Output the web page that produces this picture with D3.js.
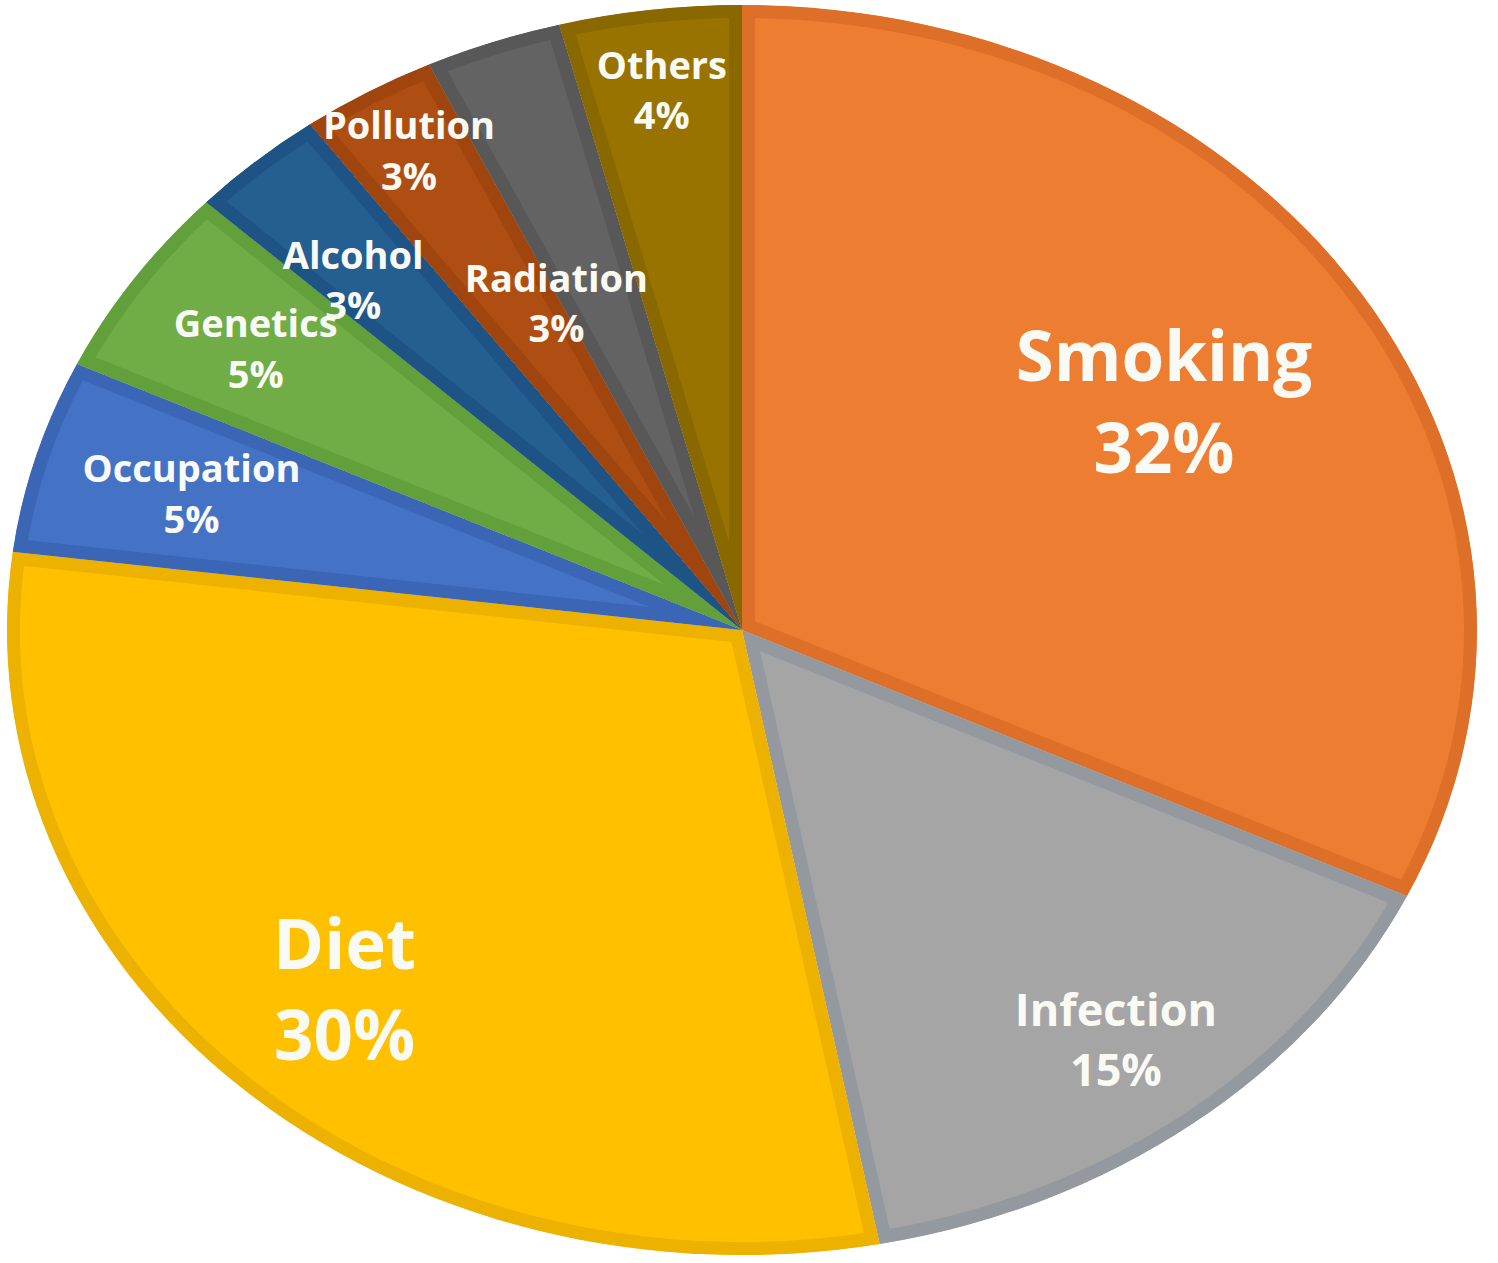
<!DOCTYPE html>
<html>
<head>
<meta charset="utf-8">
<script src="https://cdn.jsdelivr.net/npm/d3@7"></script>
<style>
  body { margin: 0; background: #fff; }
  .sliceLabel { font-family: "Open Sans", sans-serif; font-weight: 700; fill: #fafaf5; }
</style>
</head>
<body>
<div class="chart"></div>
<script>
// data
var categories = ["Smoking", "Infection", "Diet", "Occupation", "Genetics", "Alcohol", "Pollution", "Radiation", "Others"];
var percents = [32, 15, 30, 5, 5, 3, 3, 3, 4];
var fillColors = ["#ED7D31", "#A5A5A5", "#FFC000", "#4472C4", "#70AD47", "#255E91", "#AE4E12", "#636363", "#997300"];
var edgeColors = ["#DD6F28", "#9499A0", "#EDB100", "#3B66B6", "#62A03B", "#1E5385", "#9F450D", "#585858", "#8A6800"];

// label placement (fraction of radius, angle nudge in degrees)
var labelRadius = [0.68, 0.83, 0.79, 0.78, 0.80, 0.77, 0.89, 0.58, 0.87];
var labelNudge = [0, 0, 0, 0, 0, -2, 0, -6, 0];

var svgWidth = 1498;
var svgHeight = 1263;

// the pie is drawn as an ellipse
var cx = 742, cy = 630;
var rx = 735, ry = 625;
var sx = rx / ry;

var svg = d3.select(".chart")
  .append("svg")
  .attr("width", svgWidth)
  .attr("height", svgHeight);

var pie = d3.pie()
  .sort(null)
  .value(d => d);

var arcs = pie(percents);

var arc = d3.arc()
  .innerRadius(0)
  .outerRadius(ry);

var pieGroup = svg.append("g")
  .attr("transform", `translate(${cx}, ${cy}) scale(${sx}, 1)`);

var defs = svg.append("defs");
defs.selectAll("clipPath")
  .data(arcs)
  .enter()
  .append("clipPath")
  .attr("id", (d, i) => "clip" + i)
  .append("path")
  .attr("d", arc);

// slice fill, then an inner darker border clipped to the slice
pieGroup.selectAll("path.slice")
  .data(arcs)
  .enter()
  .append("path")
  .classed("slice", true)
  .attr("d", arc)
  .attr("fill", (d, i) => fillColors[i])
  .attr("stroke", (d, i) => edgeColors[i])
  .attr("stroke-width", 26)
  .attr("stroke-linejoin", "miter")
  .attr("vector-effect", "non-scaling-stroke")
  .attr("clip-path", (d, i) => `url(#clip${i})`);

// labels
var sizeFor = d3.scaleThreshold()
  .domain([10, 20])
  .range([38, 45, 69]);

var labelGroup = svg.append("g")
  .attr("transform", `translate(${cx}, ${cy})`);

var labels = labelGroup.selectAll("g.lbl")
  .data(arcs)
  .enter()
  .append("g")
  .classed("lbl", true)
  .attr("transform", function(d, i) {
    var a = (d.startAngle + d.endAngle) / 2 + labelNudge[i] * Math.PI / 180;
    var r = ry * labelRadius[i];
    return `translate(${Math.sin(a) * r * sx}, ${-Math.cos(a) * r})`;
  });

labels.append("text")
  .classed("sliceLabel", true)
  .attr("text-anchor", "middle")
  .attr("font-size", d => sizeFor(d.value) + "px")
  .attr("y", d => -0.31 * sizeFor(d.value))
  .text((d, i) => categories[i]);

labels.append("text")
  .classed("sliceLabel", true)
  .attr("text-anchor", "middle")
  .attr("font-size", d => sizeFor(d.value) + "px")
  .attr("y", d => 1.02 * sizeFor(d.value))
  .text(d => d.value + "%");
</script>
</body>
</html>
